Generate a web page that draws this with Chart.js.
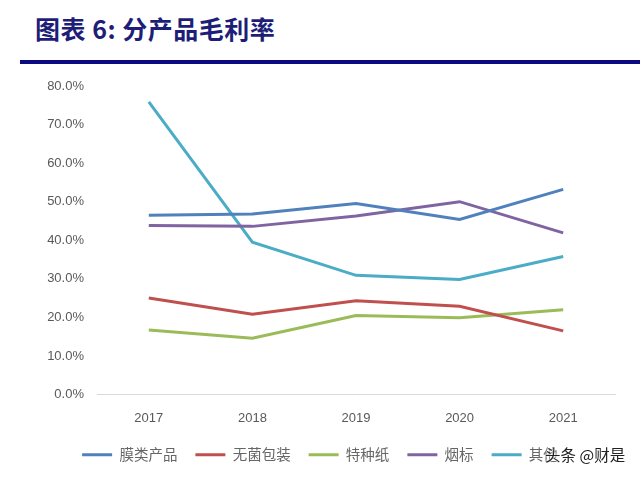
<!DOCTYPE html>
<html>
<head>
<meta charset="utf-8">
<script src="https://cdn.jsdelivr.net/npm/chart.js@4.4.0/dist/chart.umd.min.js"></script>
<style>
  body { margin: 0; background: #fff; width: 640px; height: 477px; overflow: hidden; position: relative; font-family: "Noto Sans CJK SC", sans-serif; }
  #title { position: absolute; left: 35px; top: 11px; font-size: 25px; font-weight: bold; color: #1e1e78; letter-spacing: 0.5px; line-height: 34px; }
  #rule { position: absolute; left: 20px; top: 60px; width: 620px; height: 4px; background: #0b0a80; }
  #box { position: absolute; left: 25px; top: 66px; width: 615px; height: 411px; }
  #mark { position: absolute; left: 545px; top: 443px; font-size: 15.5px; color: #222; text-shadow: 0 0 2px #fff, 0 0 2px #fff, 0 0 1px #fff; }
</style>
</head>
<body>
<div id="title">图表 6: 分产品毛利率</div>
<div id="rule"></div>
<div id="box"><canvas id="lineChart"></canvas></div>
<div id="mark">头条 @财是</div>
<script>
// 年份
var years = ['2017', '2018', '2019', '2020', '2021'];
var seriesNames = ['膜类产品', '无菌包装', '特种纸', '烟标', '其他'];
// 毛利率 (%)
var filmValues = [46.5, 46.8, 49.5, 45.4, 53.2];
var asepticValues = [25.0, 20.8, 24.3, 22.9, 16.5];
var paperValues = [16.7, 14.6, 20.5, 19.9, 22.0];
var labelValues = [43.8, 43.6, 46.3, 50.0, 41.9];
var otherValues = [75.9, 39.5, 30.9, 29.8, 35.8];
var yTicks = [0, 10, 20, 30, 40, 50, 60, 70, 80];

var colors = ['#4f81bd', '#c0504d', '#9bbb59', '#8064a2', '#4bacc6'];
var allValues = [filmValues, asepticValues, paperValues, labelValues, otherValues];

var datasets = allValues.map(function (vals, i) {
  return {
    label: seriesNames[i],
    data: vals,
    borderColor: colors[i],
    backgroundColor: colors[i],
    borderWidth: 3,
    pointRadius: 0,
    tension: 0,
    fill: false
  };
});

var ctx = document.getElementById('lineChart').getContext('2d');
new Chart(ctx, {
  type: 'line',
  data: { labels: years, datasets: datasets },
  options: {
    responsive: true,
    maintainAspectRatio: false,
    animation: false,
    layout: { padding: { top: 20, right: 25, left: 0, bottom: 5 } },
    plugins: {
      tooltip: { enabled: false },
      legend: {
        position: 'bottom',
        labels: {
          boxWidth: 30,
          boxHeight: 3,
          padding: 18,
          color: '#666666',
          font: { family: '"Noto Sans CJK SC"', size: 14.5 },
          generateLabels: function (chart) {
            var items = Chart.defaults.plugins.legend.labels.generateLabels(chart);
            items.forEach(function (it) { it.lineWidth = 0; });
            return items;
          }
        }
      }
    },
    scales: {
      x: {
        offset: true,
        grid: { display: false },
        border: { display: true, color: '#d9d9d9', width: 1 },
        ticks: { color: '#595959', font: { family: '"Liberation Sans"', size: 13 }, padding: 8 },
        afterFit: function (scale) { scale.height = 35; }
      },
      y: {
        min: 0,
        max: 80,
        grid: { display: false },
        border: { display: false },
        afterBuildTicks: function (scale) {
          scale.ticks = yTicks.map(function (v) { return { value: v }; });
        },
        ticks: {
          color: '#595959',
          font: { family: '"Liberation Sans"', size: 13 },
          padding: 5,
          callback: function (v) { return v.toFixed(1) + '%'; }
        },
        afterFit: function (scale) { scale.width = 72; }
      }
    }
  }
});
</script>
</body>
</html>
